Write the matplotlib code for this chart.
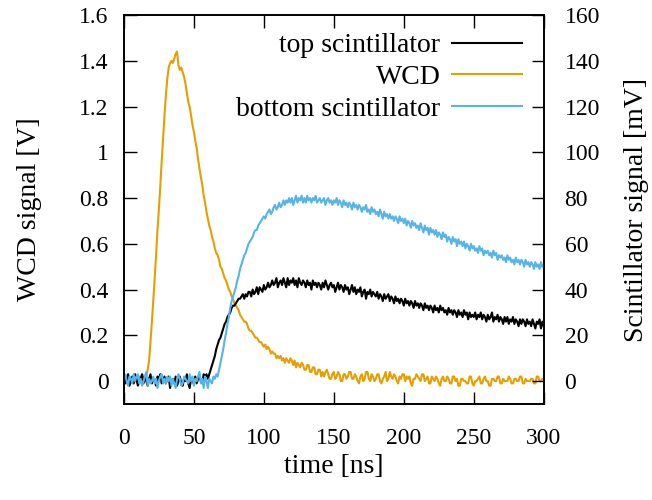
import numpy as np
import matplotlib
matplotlib.use("Agg")
import matplotlib.pyplot as plt

plt.rcParams['font.family'] = ['Liberation Serif', 'DejaVu Serif']

# one sample per ns, 0..300 ns (rows of 10 ns)
wcd = [0.02, 0.00, -0.01, 0.03, 0.01, 0.00, 0.02, -0.01, 0.03, 0.01,
       -0.01, 0.02, 0.00, 0.03, 0.01, 0.00, 0.02, 0.05, 0.09, 0.17,
       0.26, 0.35, 0.45, 0.55, 0.66, 0.75, 0.85, 0.96, 1.06, 1.16,
       1.25, 1.32, 1.37, 1.39, 1.40, 1.39, 1.41, 1.43, 1.44, 1.38,
       1.36, 1.37, 1.35, 1.33, 1.30, 1.26, 1.22, 1.20, 1.16, 1.12,
       1.09, 1.05, 1.02, 0.97, 0.93, 0.89, 0.86, 0.81, 0.78, 0.74,
       0.71, 0.68, 0.66, 0.63, 0.61, 0.58, 0.56, 0.55, 0.53, 0.50,
       0.49, 0.47, 0.45, 0.44, 0.42, 0.40, 0.39, 0.37, 0.36, 0.34,
       0.33, 0.32, 0.31, 0.29, 0.28, 0.27, 0.26, 0.26, 0.25, 0.23,
       0.22, 0.22, 0.21, 0.20, 0.19, 0.19, 0.18, 0.17, 0.17, 0.16,
       0.15, 0.16, 0.14, 0.15, 0.14, 0.12, 0.13, 0.12, 0.12, 0.10,
       0.11, 0.10, 0.11, 0.09, 0.10, 0.08, 0.10, 0.09, 0.08, 0.10,
       0.09, 0.07, 0.09, 0.06, 0.08, 0.07, 0.06, 0.08, 0.07, 0.05,
       0.05, 0.07, 0.07, 0.04, 0.04, 0.06, 0.06, 0.03, 0.03, 0.05,
       0.05, 0.02, 0.04, 0.02, 0.04, 0.05, 0.03, 0.01, 0.01, 0.03,
       0.04, 0.01, 0.02, 0.04, 0.03, 0.00, 0.00, 0.03, 0.03, 0.01,
       0.02, 0.04, 0.04, 0.01, 0.01, 0.03, 0.02, 0.00, -0.01, 0.02,
       0.03, 0.00, 0.01, 0.04, 0.04, 0.01, 0.00, 0.03, 0.02, 0.00,
       0.01, 0.03, 0.03, 0.00, -0.01, 0.01, 0.02, 0.04, 0.00, 0.01,
       0.04, 0.02, 0.01, 0.03, 0.02, 0.00, -0.01, 0.02, 0.01, 0.03,
       0.03, 0.00, 0.02, 0.01, 0.02, -0.01, -0.02, 0.01, 0.01, 0.03,
       0.02, 0.01, 0.00, 0.03, 0.03, 0.00, 0.01, 0.02, -0.01, -0.01,
       0.02, 0.01, 0.00, 0.02, 0.01, -0.01, -0.02, 0.01, 0.02, 0.00,
       0.00, 0.02, 0.01, -0.01, -0.01, 0.02, 0.02, 0.00, 0.01, -0.02,
       -0.02, 0.01, 0.01, 0.00, 0.00, -0.01, -0.01, 0.02, 0.02, -0.01,
       -0.02, 0.00, 0.00, 0.01, 0.02, -0.01, -0.01, 0.01, 0.02, 0.00,
       0.00, -0.02, -0.02, 0.01, 0.01, 0.00, 0.00, 0.02, 0.02, -0.01,
       -0.01, 0.01, 0.00, 0.00, 0.00, 0.02, 0.01, -0.01, -0.01, 0.01,
       0.01, 0.00, 0.00, 0.02, 0.02, -0.01, -0.01, 0.01, 0.00, 0.00,
       0.00, 0.01, 0.01, -0.01, -0.01, 0.02, 0.02, 0.00, 0.00, 0.01,
       0.01]

top_scint = [2, -1, 1, 3, -2, 0, 2, -1, 3, 1,
             -2, 0, 1, 3, -1, 2, 0, -2, 1, 3,
             -1, 1, 0, -2, 2, 1, 3, -1, 0, 2,
             -1, 1, 2, -3, 0, 1, -1, 2, -2, 0,
             2, -1, -2, 1, 0, 3, -1, -3, 1, 0,
             -1, 2, -1, 1, 2, 0, -1, 3, 2, 3,
             1, 3, 5, 7, 9, 11, 14, 16, 18, 19,
             21, 23, 25, 26, 28, 29, 30, 32, 33, 33,
             34, 35, 36, 36, 37, 38, 36, 38, 37, 39,
             39, 37, 40, 38, 39, 41, 38, 41, 40, 39,
             42, 40, 41, 43, 41, 42, 44, 42, 43, 45,
             41, 43, 44, 42, 45, 43, 41, 45, 42, 44,
             43, 45, 42, 44, 41, 45, 43, 42, 44, 43,
             41, 44, 42, 43, 40, 44, 42, 43, 41, 43,
             42, 40, 43, 41, 44, 42, 40, 42, 43, 41,
             42, 39, 41, 43, 40, 42, 41, 39, 42, 40,
             41, 38, 40, 42, 39, 41, 38, 40, 39, 41,
             37, 39, 40, 36, 39, 38, 40, 37, 39, 38,
             37, 39, 36, 38, 37, 35, 38, 36, 37, 38,
             35, 37, 36, 34, 37, 35, 36, 34, 36, 35,
             33, 36, 34, 35, 33, 35, 34, 32, 35, 33,
             34, 32, 34, 33, 31, 34, 32, 33, 31, 33,
             32, 30, 33, 31, 32, 30, 33, 31, 32, 30,
             31, 29, 32, 30, 31, 29, 31, 30, 28, 31,
             29, 30, 28, 31, 29, 30, 27, 30, 28, 29,
             28, 30, 27, 29, 28, 30, 27, 29, 28, 26,
             29, 27, 28, 30, 26, 28, 27, 29, 26, 28,
             27, 25, 28, 26, 28, 25, 27, 26, 28, 25,
             27, 26, 24, 27, 25, 27, 26, 24, 27, 25,
             26, 24, 27, 25, 23, 26, 25, 27, 23, 26,
             24]

bottom_scint = [1, 3, 0, -2, 2, 1, -1, 3, 0, 2,
                3, -1, 1, -2, 0, 2, 4, -2, 1, -1,
                0, 2, -1, 1, -3, 0, 2, 3, -1, 1,
                -1, 2, 0, 2, -2, 1, -1, -3, 1, 3,
                1, -2, -1, 2, 1, 0, -1, 3, 0, 2,
                -2, 1, 0, 2, 4, -1, 1, -3, 2, 0,
                -3, 1, 0, -1, 2, 1, 3, 2, 5, 8,
                11, 14, 18, 21, 25, 28, 32, 35, 37, 39,
                41, 44, 46, 49, 51, 53, 55, 56, 58, 60,
                61, 62, 63, 65, 66, 66, 68, 69, 70, 71,
                72, 71, 73, 74, 75, 73, 74, 76, 77, 75,
                76, 78, 76, 77, 79, 77, 79, 78, 80, 78,
                80, 77, 79, 81, 78, 80, 79, 81, 78, 80,
                78, 81, 79, 80, 78, 80, 79, 81, 78, 79,
                80, 78, 79, 80, 77, 79, 80, 78, 79, 77,
                79, 78, 80, 77, 79, 78, 76, 79, 77, 78,
                76, 78, 77, 75, 78, 76, 77, 75, 77, 76,
                74, 76, 75, 77, 74, 75, 73, 76, 74, 75,
                73, 74, 72, 75, 73, 71, 74, 72, 73, 71,
                73, 71, 72, 70, 72, 71, 69, 72, 70, 71,
                69, 71, 68, 70, 69, 67, 70, 68, 69, 67,
                68, 66, 69, 67, 65, 68, 66, 67, 64, 67,
                65, 66, 64, 66, 63, 65, 64, 62, 65, 63,
                64, 61, 63, 62, 60, 63, 61, 62, 59, 62,
                60, 61, 59, 61, 58, 60, 59, 57, 60, 58,
                59, 57, 58, 56, 59, 57, 58, 55, 57, 56,
                57, 55, 56, 54, 57, 55, 56, 53, 55, 54,
                55, 53, 54, 52, 55, 53, 54, 52, 53, 51,
                54, 52, 53, 51, 53, 52, 50, 53, 51, 52,
                50, 52, 51, 49, 52, 50, 51, 49, 52, 50,
                51]

t_wcd = np.arange(len(wcd), dtype=float)
t_top = np.arange(len(top_scint), dtype=float)
t_bot = np.arange(len(bottom_scint), dtype=float)

fig = plt.figure(figsize=(6.52, 5.0), dpi=100)
ax = fig.add_axes([0.190, 0.192, 0.644, 0.778])
ax2 = ax.twinx()

fs = 17
lfs = 20
h_top, = ax2.plot(t_top, top_scint, color='black', lw=1.5, label='top scintillator')
h_wcd, = ax.plot(t_wcd, wcd, color='#E69F00', lw=1.5, label='WCD')
h_bot, = ax2.plot(t_bot, bottom_scint, color='#56B4E9', lw=1.5, label='bottom scintillator')

ax.set_xlim(0, 300)
ax.set_ylim(-0.1, 1.6)
ax2.set_ylim(-10, 160)
ax.set_xticks(np.arange(0, 301, 50))
ax.set_yticks(np.arange(0, 1.61, 0.2))
ax.set_yticklabels(['0', '0.2', '0.4', '0.6', '0.8', '1', '1.2', '1.4', '1.6'])
ax2.set_yticks(np.arange(0, 161, 20))

ax.tick_params(axis='x', direction='in', length=9, width=1, top=True,
               labelsize=fs, pad=17)
ax.tick_params(axis='y', direction='in', length=9, width=1, labelsize=fs, pad=11)
ax2.tick_params(axis='y', direction='in', length=9, width=1, labelsize=fs, pad=15)
for a in (ax, ax2):
    for s in a.spines.values():
        s.set_linewidth(1.2)

ax.set_xlabel('time [ns]', fontsize=lfs, labelpad=4)
ax.set_ylabel('WCD signal [V]', fontsize=lfs, labelpad=27)
ax2.set_ylabel('Scintillator signal [mV]', fontsize=lfs, labelpad=17)

ax2.legend(handles=[h_top, h_wcd, h_bot], loc='upper right',
           bbox_to_anchor=(0.961, 0.968), frameon=False,
           markerfirst=False, fontsize=lfs, handlelength=2.5,
           labelspacing=0.22, borderaxespad=0, borderpad=0.2,
           handletextpad=0.43)

fig.savefig('out.png', dpi=100)
